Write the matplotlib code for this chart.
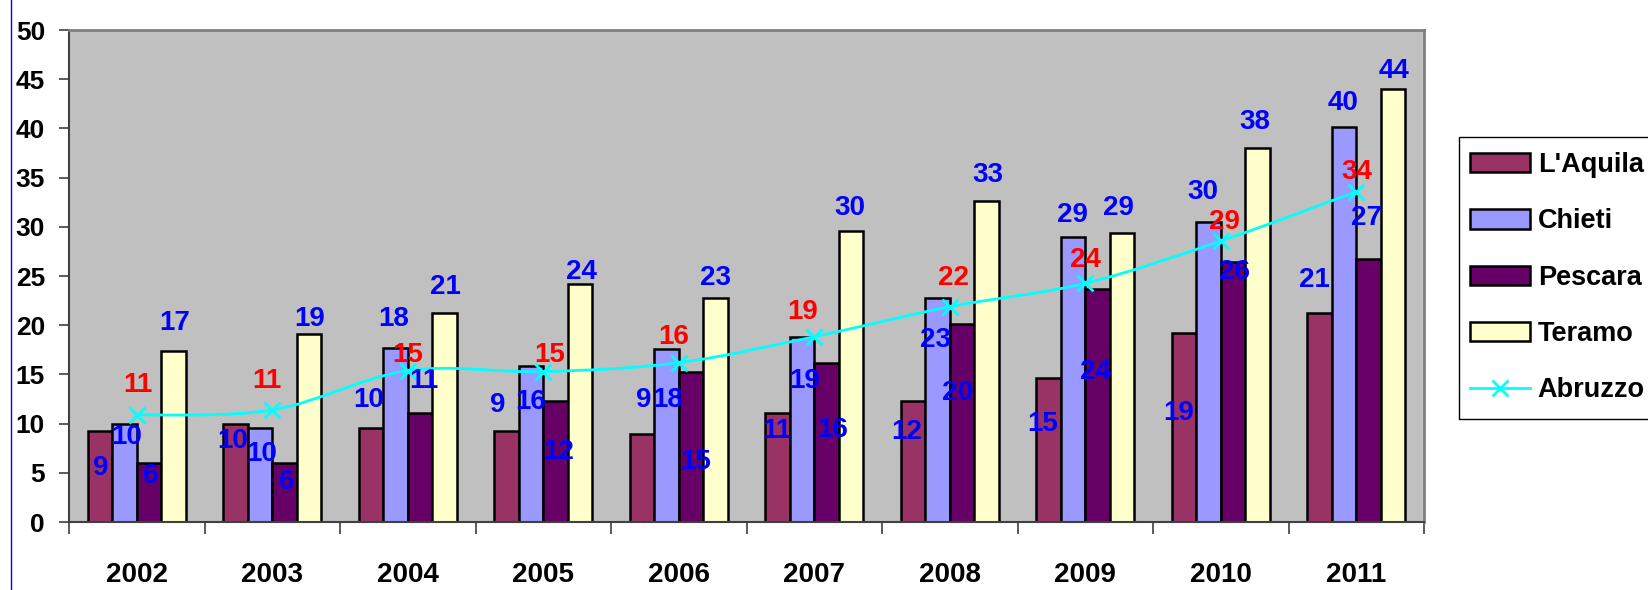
import numpy as np
import matplotlib
matplotlib.use("Agg")
import matplotlib.pyplot as plt
from matplotlib import font_manager
from matplotlib.path import Path
from matplotlib.patches import PathPatch, Patch, Rectangle
from matplotlib.lines import Line2D

# ---------------- data ----------------
years = ["2002", "2003", "2004", "2005", "2006", "2007", "2008", "2009", "2010", "2011"]
laquila = [9.25, 9.93, 9.52, 9.28, 8.94, 11.04, 12.3, 14.67, 19.17, 21.27]
chieti = [9.93, 9.52, 17.65, 15.85, 17.55, 18.83, 22.73, 29.0, 30.45, 40.11]
pescara = [6.03, 6.03, 11.08, 12.26, 15.28, 16.19, 20.12, 23.65, 26.42, 26.7]
teramo = [17.38, 19.1, 21.2, 24.15, 22.73, 29.6, 32.62, 29.34, 38.04, 43.97]
abruzzo = [10.87, 11.38, 15.38, 15.28, 16.19, 18.83, 21.88, 24.26, 28.55, 33.57]
series_names = ["L'Aquila", "Chieti", "Pescara", "Teramo"]
line_name = "Abruzzo"

# ---------------- label placement (pixels: dx, dy up) ----------------
lab_off = {
    "L'Aquila": [(1, -37), (-3, -17), (-2, 28), (-9, 26), (2, 34), (-1, -18), (-6, -31), (-6, -46), (-6, -80), (-5, 33)],
    "Chieti": [(2, -13), (2, -26), (-2, 29), (0, -36), (1, -51), (3, -44), (-2, -42), (-1, 22), (-6, 30), (-1, 24)],
    "Pescara": [(2, -13), (2, -19), (4, 32), (3, -51), (5, -90), (6, -67), (-4, -69), (-2, -83), (2, -10), (-2, 41)],
    "Teramo": [(1, 28), (1, 15), (1, 26), (2, 12), (0, 20), (-1, 23), (2, 26), (-3, 25), (-2, 26), (1, 18)],
    "Abruzzo": [(1, 30), (-5, 29), (0, 16), (6, 17), (-5, 26), (-12, 25), (4, 29), (0, 23), (4, 19), (1, 20)],
}

# ---------------- fonts ----------------
names = {f.name for f in font_manager.fontManager.ttflist}
if "Liberation Sans Narrow" in names:
    FAM = ["Liberation Sans Narrow", "Liberation Sans", "DejaVu Sans"]
    scale = 1.15
else:
    FAM = ["Liberation Sans", "DejaVu Sans"]
    scale = 1.0
plt.rcParams["font.family"] = FAM
plt.rcParams["font.weight"] = "bold"

LAB_FS = 20 * scale
YT_FS = 19 * scale
XT_FS = 20 * scale
LEG_FS = 19.5 * scale

colors = ["#993366", "#9999FF", "#660066", "#FFFFCC"]
W, H = 1648, 590
fig = plt.figure(figsize=(W / 100, H / 100), dpi=100)
ax = fig.add_axes([69 / W, 1 - 522 / H, 1355 / W, 492 / H])
ax.set_facecolor("#C0C0C0")

x = np.arange(len(years))
bw = 0.18
offsets = [-0.27, -0.09, 0.09, 0.27]
data = [laquila, chieti, pescara, teramo]
for name, vals, col, off in zip(series_names, data, colors, offsets):
    ax.bar(x + off, vals, width=bw, color=col, edgecolor="black", linewidth=1.8, zorder=2)
    for i, v in enumerate(vals):
        dx, dy = lab_off[name][i]
        ax.annotate(f"{v:.0f}", (x[i] + off, v), xytext=(dx, dy), textcoords="offset pixels",
                    ha="center", va="center", color="#0000FF", fontsize=LAB_FS,
                    fontweight="bold", zorder=5)

# smoothed Abruzzo line (Bezier through data points, like spreadsheet smoothing)
pts = np.column_stack([x, abruzzo]).astype(float)
verts = [tuple(pts[0])]
codes = [Path.MOVETO]
n = len(pts)
for i in range(n - 1):
    p0 = pts[max(i - 1, 0)]
    p1 = pts[i]
    p2 = pts[i + 1]
    p3 = pts[min(i + 2, n - 1)]
    c1 = p1 + (p2 - p0) / 6.0
    c2 = p2 - (p3 - p1) / 6.0
    verts += [tuple(c1), tuple(c2), tuple(p2)]
    codes += [Path.CURVE4] * 3
ax.add_patch(PathPatch(Path(verts, codes), facecolor="none", edgecolor="#00FFFF", lw=2.0, zorder=3))
ax.plot(x, abruzzo, ls="none", marker="x", ms=11, mew=2.0, color="#00FFFF", zorder=4)
for i, v in enumerate(abruzzo):
    dx, dy = lab_off["Abruzzo"][i]
    ax.annotate(f"{v:.0f}", (x[i], v), xytext=(dx, dy), textcoords="offset pixels",
                ha="center", va="center", color="#FF0000", fontsize=LAB_FS,
                fontweight="bold", zorder=5)

ax.set_xlim(-0.5, len(years) - 0.5)
ax.set_ylim(0, 50)
ax.set_yticks(range(0, 51, 5))
ax.tick_params(axis="y", direction="out", length=7.2, width=1.2, color="#404040",
               pad=10, labelsize=YT_FS)
ax.set_xticks(np.arange(-0.5, len(years), 1.0))
ax.set_xticklabels([])
ax.tick_params(axis="x", which="major", direction="out", length=8.5, width=1.2, color="#404040")
ax.set_xticks(x, minor=True)
ax.set_xticklabels(years, minor=True)
ax.tick_params(axis="x", which="minor", length=0, pad=29, labelsize=XT_FS)
for lab in ax.get_yticklabels() + ax.get_xticklabels(minor=True):
    lab.set_fontweight("bold")

for s in ["left", "bottom"]:
    ax.spines[s].set_color("#404040")
    ax.spines[s].set_linewidth(1.5)
for s in ["top", "right"]:
    ax.spines[s].set_color("#808080")
    ax.spines[s].set_linewidth(2.0)

# blue vertical border line at the left of the picture
fig.add_artist(Line2D([10.5 / W, 10.5 / W], [0, 1], color="#0000FF", lw=1.0))

# legend frame (runs past the right edge of the picture, as in the reference)
fig.add_artist(Rectangle((1459 / W, 1 - 419 / H), 260 / W, 282 / H, transform=fig.transFigure,
                         fill=False, edgecolor="black", linewidth=1.0))
handles = [Patch(facecolor=c, edgecolor="black", linewidth=1.8) for c in colors]
handles.append(Line2D([], [], color="#00FFFF", lw=2.0, marker="x", ms=11, mew=2.0))
leg = fig.legend(handles, series_names + [line_name], loc="upper left",
                 bbox_to_anchor=(1470 / W, 1 - 152 / H), frameon=False,
                 prop={"size": LEG_FS, "weight": "bold", "family": FAM},
                 handlelength=2.2, handleheight=0.72, handletextpad=0.3,
                 borderpad=0, labelspacing=1.12, borderaxespad=0)

fig.savefig("out.png", dpi=100)
